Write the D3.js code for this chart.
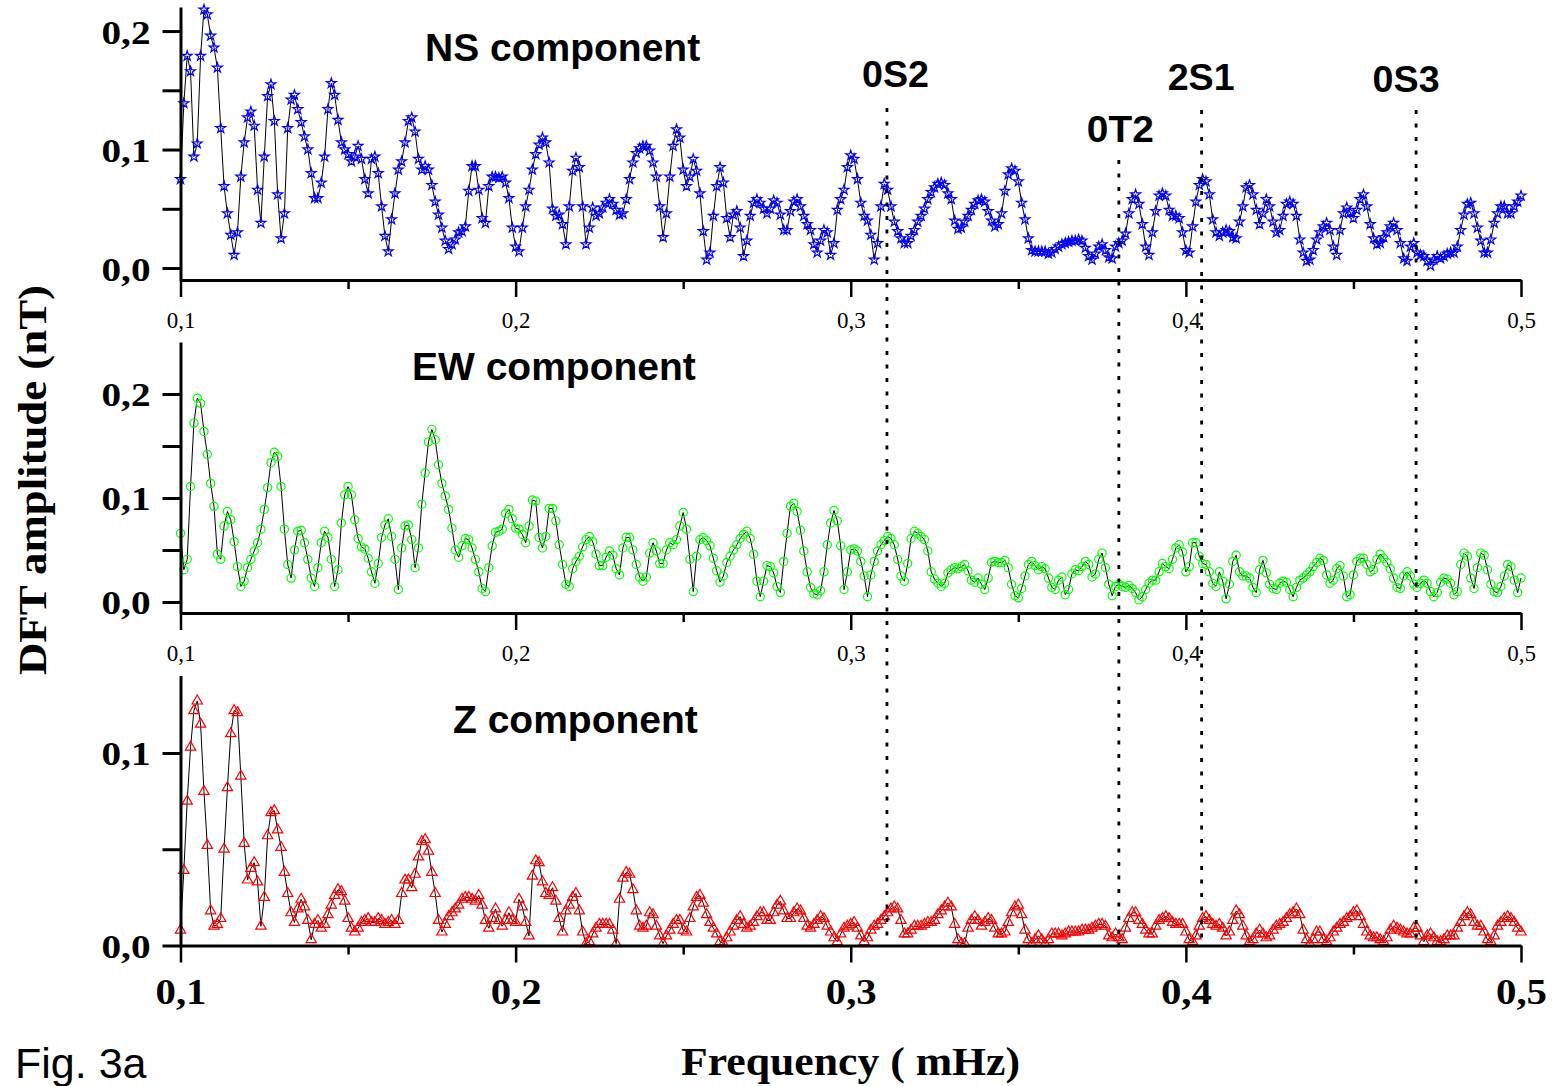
<!DOCTYPE html>
<html>
<head>
<meta charset="utf-8">
<title>DFT amplitude spectra – NS, EW and Z components</title>
<script src="https://cdn.jsdelivr.net/npm/d3@7"></script>
<style>
  html, body { margin: 0; padding: 0; background: #fff; }
  svg { display: block; }
</style>
</head>
<body>
<svg id="chart" width="1554" height="1086"></svg>
<script>
// ---------------------------------------------------------------------------
// Data: DFT amplitude (nT) sampled every 0.001 mHz from 0.100 to 0.500 mHz
// ---------------------------------------------------------------------------
const FREQ_START = 0.1;
const FREQ_STEP = 0.001;

const nsAmplitude = [
  0.075,0.139,0.179,0.166,0.094,0.105,0.179,0.218,0.214,0.196,
  0.186,0.169,0.118,0.069,0.046,0.028,0.011,0.030,0.077,0.106,
  0.127,0.132,0.120,0.066,0.038,0.094,0.145,0.155,0.124,0.062,
  0.025,0.046,0.118,0.142,0.146,0.134,0.123,0.111,0.100,0.080,
  0.059,0.059,0.072,0.094,0.134,0.156,0.146,0.125,0.106,0.100,
  0.096,0.090,0.094,0.103,0.092,0.075,0.063,0.092,0.094,0.080,
  0.052,0.027,0.014,0.041,0.063,0.083,0.090,0.106,0.124,0.127,
  0.115,0.092,0.083,0.086,0.083,0.070,0.056,0.045,0.034,0.023,
  0.016,0.020,0.024,0.030,0.031,0.035,0.065,0.086,0.086,0.066,
  0.042,0.038,0.069,0.077,0.077,0.076,0.077,0.072,0.059,0.034,
  0.018,0.014,0.034,0.052,0.066,0.083,0.096,0.104,0.110,0.106,
  0.089,0.050,0.044,0.045,0.037,0.020,0.052,0.082,0.093,0.085,
  0.052,0.020,0.034,0.051,0.044,0.046,0.051,0.055,0.058,0.054,
  0.049,0.045,0.046,0.058,0.075,0.089,0.097,0.101,0.103,0.103,
  0.099,0.089,0.077,0.052,0.026,0.046,0.077,0.103,0.117,0.110,
  0.083,0.069,0.077,0.092,0.082,0.063,0.031,0.007,0.013,0.044,
  0.069,0.085,0.072,0.042,0.026,0.045,0.048,0.034,0.010,0.023,
  0.044,0.055,0.058,0.055,0.050,0.046,0.050,0.057,0.055,0.045,
  0.032,0.032,0.048,0.056,0.058,0.052,0.044,0.037,0.032,0.020,
  0.013,0.023,0.032,0.030,0.011,0.021,0.049,0.058,0.066,0.085,
  0.095,0.092,0.075,0.055,0.044,0.040,0.028,0.007,0.021,0.052,
  0.071,0.066,0.052,0.039,0.031,0.025,0.021,0.021,0.027,0.032,
  0.039,0.044,0.050,0.058,0.064,0.068,0.071,0.072,0.070,0.063,
  0.058,0.040,0.033,0.034,0.039,0.044,0.049,0.054,0.057,0.058,
  0.056,0.048,0.040,0.035,0.037,0.046,0.065,0.079,0.084,0.082,
  0.073,0.055,0.041,0.025,0.015,0.014,0.014,0.014,0.014,0.012,
  0.013,0.016,0.018,0.020,0.021,0.022,0.023,0.023,0.024,0.023,
  0.017,0.010,0.007,0.012,0.018,0.020,0.015,0.009,0.008,0.018,
  0.021,0.023,0.029,0.046,0.058,0.062,0.054,0.037,0.018,0.011,
  0.030,0.048,0.061,0.063,0.061,0.049,0.044,0.044,0.042,0.030,
  0.015,0.013,0.035,0.056,0.070,0.075,0.073,0.062,0.041,0.030,
  0.027,0.030,0.032,0.031,0.026,0.025,0.039,0.052,0.068,0.070,
  0.062,0.049,0.037,0.046,0.058,0.052,0.039,0.030,0.032,0.044,
  0.054,0.056,0.054,0.044,0.024,0.013,0.006,0.007,0.015,0.024,
  0.030,0.035,0.038,0.032,0.018,0.011,0.032,0.046,0.051,0.047,
  0.042,0.049,0.058,0.062,0.052,0.037,0.025,0.020,0.021,0.026,
  0.030,0.035,0.038,0.032,0.021,0.008,0.006,0.018,0.021,0.013,
  0.011,0.010,0.006,0.002,0.007,0.010,0.008,0.010,0.012,0.013,
  0.013,0.018,0.032,0.045,0.054,0.055,0.046,0.034,0.023,0.013,
  0.013,0.024,0.038,0.046,0.052,0.052,0.046,0.046,0.052,0.056,
  0.061
];

const ewAmplitude = [
  0.066,0.031,0.041,0.111,0.172,0.196,0.191,0.164,0.142,0.114,
  0.092,0.046,0.041,0.073,0.087,0.079,0.058,0.034,0.015,0.020,
  0.033,0.041,0.049,0.057,0.070,0.089,0.110,0.134,0.144,0.140,
  0.111,0.070,0.036,0.023,0.050,0.068,0.069,0.057,0.041,0.023,
  0.015,0.033,0.057,0.068,0.062,0.041,0.015,0.031,0.076,0.103,
  0.111,0.103,0.079,0.061,0.053,0.051,0.042,0.029,0.018,0.037,
  0.062,0.074,0.080,0.063,0.041,0.012,0.052,0.073,0.074,0.060,
  0.033,0.052,0.094,0.124,0.154,0.166,0.156,0.132,0.114,0.102,
  0.089,0.071,0.050,0.043,0.054,0.061,0.060,0.052,0.041,0.029,
  0.013,0.010,0.033,0.054,0.067,0.068,0.070,0.085,0.089,0.080,
  0.071,0.070,0.065,0.057,0.073,0.098,0.097,0.062,0.052,0.063,
  0.090,0.090,0.078,0.055,0.036,0.017,0.015,0.032,0.039,0.044,
  0.053,0.060,0.063,0.058,0.046,0.035,0.035,0.043,0.049,0.045,
  0.032,0.026,0.052,0.062,0.062,0.050,0.036,0.024,0.020,0.024,
  0.047,0.057,0.049,0.037,0.037,0.050,0.057,0.055,0.060,0.073,
  0.086,0.070,0.041,0.010,0.044,0.060,0.062,0.059,0.054,0.042,
  0.030,0.019,0.025,0.038,0.044,0.050,0.055,0.061,0.065,0.068,
  0.061,0.046,0.020,0.005,0.020,0.035,0.034,0.028,0.015,0.009,
  0.039,0.066,0.092,0.095,0.087,0.069,0.049,0.029,0.014,0.008,
  0.007,0.011,0.029,0.055,0.076,0.088,0.078,0.054,0.012,0.029,
  0.050,0.051,0.049,0.039,0.025,0.005,0.026,0.039,0.049,0.055,
  0.059,0.063,0.061,0.055,0.041,0.025,0.020,0.037,0.061,0.068,
  0.066,0.063,0.060,0.049,0.029,0.022,0.018,0.015,0.018,0.028,
  0.031,0.033,0.032,0.034,0.036,0.030,0.021,0.019,0.023,0.017,
  0.012,0.023,0.038,0.039,0.038,0.038,0.040,0.033,0.017,0.006,
  0.004,0.013,0.025,0.036,0.039,0.035,0.031,0.034,0.032,0.023,
  0.014,0.012,0.021,0.024,0.007,0.012,0.027,0.031,0.030,0.034,
  0.039,0.036,0.024,0.027,0.041,0.047,0.033,0.017,0.006,0.015,
  0.017,0.015,0.014,0.016,0.013,0.009,0.002,0.005,0.012,0.018,
  0.021,0.021,0.029,0.037,0.034,0.032,0.041,0.052,0.055,0.048,
  0.029,0.034,0.057,0.057,0.044,0.037,0.036,0.029,0.018,0.015,
  0.029,0.020,0.003,0.017,0.039,0.045,0.029,0.025,0.025,0.023,
  0.014,0.009,0.031,0.040,0.028,0.017,0.013,0.012,0.018,0.020,
  0.019,0.012,0.005,0.014,0.021,0.023,0.026,0.029,0.034,0.038,
  0.042,0.040,0.026,0.018,0.021,0.032,0.035,0.025,0.005,0.007,
  0.026,0.039,0.042,0.042,0.036,0.029,0.031,0.041,0.046,0.042,
  0.038,0.032,0.023,0.014,0.013,0.025,0.029,0.025,0.017,0.014,
  0.018,0.021,0.018,0.010,0.005,0.009,0.019,0.023,0.022,0.018,
  0.007,0.010,0.036,0.047,0.044,0.023,0.013,0.033,0.047,0.045,
  0.031,0.017,0.010,0.009,0.015,0.025,0.036,0.034,0.021,0.009,
  0.023
];

const zAmplitude = [
  0.008,0.039,0.075,0.103,0.122,0.127,0.115,0.080,0.052,0.018,
  0.010,0.011,0.014,0.050,0.082,0.110,0.122,0.121,0.088,0.053,
  0.034,0.040,0.043,0.033,0.010,0.025,0.057,0.069,0.070,0.060,
  0.051,0.038,0.027,0.017,0.012,0.019,0.024,0.020,0.013,0.003,
  0.011,0.013,0.009,0.011,0.016,0.021,0.026,0.029,0.028,0.023,
  0.014,0.009,0.007,0.009,0.012,0.013,0.014,0.012,0.012,0.014,
  0.013,0.011,0.012,0.013,0.011,0.013,0.027,0.034,0.034,0.030,
  0.037,0.046,0.054,0.055,0.049,0.038,0.027,0.013,0.007,0.011,
  0.015,0.017,0.019,0.021,0.024,0.025,0.025,0.024,0.023,0.026,
  0.021,0.013,0.009,0.014,0.019,0.013,0.010,0.013,0.017,0.013,
  0.012,0.024,0.020,0.012,0.005,0.036,0.044,0.043,0.033,0.027,
  0.026,0.030,0.023,0.014,0.007,0.018,0.021,0.025,0.027,0.018,
  0.007,0.001,0.002,0.006,0.009,0.011,0.011,0.011,0.011,0.008,
  0.001,0.024,0.035,0.038,0.037,0.029,0.018,0.010,0.009,0.010,
  0.017,0.016,0.010,0.005,0.001,0.005,0.008,0.011,0.013,0.013,
  0.008,0.007,0.014,0.020,0.025,0.026,0.022,0.016,0.012,0.009,
  0.006,0.002,0.001,0.004,0.007,0.010,0.013,0.015,0.011,0.009,
  0.010,0.012,0.015,0.017,0.017,0.013,0.013,0.017,0.021,0.023,
  0.018,0.014,0.014,0.017,0.019,0.018,0.014,0.010,0.009,0.011,
  0.013,0.015,0.014,0.010,0.007,0.004,0.002,0.006,0.009,0.010,
  0.011,0.012,0.009,0.005,0.002,0.004,0.008,0.010,0.011,0.013,
  0.015,0.017,0.019,0.020,0.019,0.013,0.006,0.006,0.008,0.010,
  0.010,0.010,0.011,0.012,0.012,0.013,0.016,0.018,0.020,0.022,
  0.020,0.011,0.003,0.001,0.001,0.009,0.013,0.015,0.013,0.010,
  0.012,0.014,0.013,0.009,0.006,0.006,0.007,0.012,0.017,0.020,
  0.021,0.016,0.008,0.003,0.001,0.003,0.005,0.003,0.001,0.003,
  0.006,0.006,0.006,0.005,0.006,0.007,0.007,0.007,0.007,0.008,
  0.008,0.008,0.009,0.010,0.011,0.011,0.010,0.005,0.004,0.006,
  0.004,0.003,0.009,0.014,0.017,0.017,0.013,0.011,0.008,0.006,
  0.006,0.010,0.013,0.014,0.015,0.014,0.012,0.011,0.011,0.011,
  0.007,0.003,0.002,0.005,0.010,0.014,0.015,0.013,0.011,0.010,
  0.011,0.009,0.005,0.007,0.013,0.018,0.016,0.010,0.005,0.002,
  0.003,0.006,0.008,0.006,0.004,0.005,0.008,0.010,0.011,0.012,
  0.014,0.016,0.017,0.019,0.016,0.008,0.003,0.001,0.003,0.007,
  0.007,0.003,0.002,0.004,0.007,0.009,0.011,0.012,0.014,0.015,
  0.017,0.018,0.015,0.011,0.007,0.005,0.004,0.004,0.003,0.002,
  0.004,0.008,0.010,0.009,0.008,0.007,0.006,0.006,0.009,0.009,
  0.005,0.002,0.005,0.006,0.004,0.002,0.002,0.003,0.005,0.005,
  0.005,0.009,0.012,0.015,0.017,0.016,0.012,0.010,0.010,0.007,
  0.003,0.002,0.005,0.010,0.012,0.014,0.015,0.014,0.012,0.009,
  0.007
];

// Frequency bins (mHz) for the samples above
const frequency = nsAmplitude.map((_, i) => +(FREQ_START + i * FREQ_STEP).toFixed(3));

// Axis ticks
const xTickValues = [0.1, 0.15, 0.2, 0.25, 0.3, 0.35, 0.4, 0.45, 0.5];
const xTickLabels = ["0,1", "0,2", "0,3", "0,4", "0,5"];
const nsYTicks = [0, 0.05, 0.1, 0.15, 0.2];
const ewYTicks = [0, 0.05, 0.1, 0.15, 0.2];
const zYTicks = [0, 0.05, 0.1];
const yTickLabels = ["0,0", "0,1", "0,2"];

// Normal modes of the Earth marked on the spectra (mHz)
const modeNames = ["0S2", "0T2", "2S1", "0S3"];
const modeFreqs = [0.3108, 0.3800, 0.4047, 0.4687];

const panelTitles = ["NS component", "EW component", "Z component"];
const yAxisTitle = "DFT amplitude (nT)";
const xAxisTitle = "Frequency ( mHz)";
const figureLabel = "Fig. 3a";

// ---------------------------------------------------------------------------
// Layout
// ---------------------------------------------------------------------------
const SERIF = '"Liberation Serif", "Times New Roman", Times, serif';
const SANS = '"Liberation Sans", Arial, Helvetica, sans-serif';

const svg = d3.select("#chart");
const x = d3.scaleLinear().domain([0.1, 0.5]).range([180.5, 1521]);

const isMajor = v => Math.abs(v * 10 - Math.round(v * 10)) < 1e-6;

const panels = [
  { title: panelTitles[0], values: nsAmplitude, yTicks: nsYTicks,
    domain: [-0.0101, 0.2203], range: [280, 7],
    color: "#0000ff", marker: "star", titlePos: [425, 61], bigXLabels: false },
  { title: panelTitles[1], values: ewAmplitude, yTicks: ewYTicks,
    domain: [-0.0106, 0.25], range: [613, 342],
    color: "#00ff00", marker: "circle", titlePos: [412, 380], bigXLabels: false },
  { title: panelTitles[2], values: zAmplitude, yTicks: zYTicks,
    domain: [0, 0.1403], range: [945.5, 675.4],
    color: "#ff0000", marker: "triangle", titlePos: [453, 733], bigXLabels: true }
];

const starPath = d3.symbol().type(d3.symbolStar).size(30)();
const trianglePath = d3.symbol().type(d3.symbolTriangle).size(46)();

panels.forEach(p => {
  const y = d3.scaleLinear().domain(p.domain).range(p.range);
  const g = svg.append("g");

  // connecting line
  g.append("path")
    .datum(p.values)
    .attr("d", d3.line().x((d, i) => x(frequency[i])).y(d => y(d)))
    .attr("fill", "none")
    .attr("stroke", "#000")
    .attr("stroke-width", 1);

  // open markers
  const pts = g.append("g")
    .attr("fill", "none")
    .attr("stroke", p.color)
    .attr("stroke-width", 1.2);
  if (p.marker === "circle") {
    pts.selectAll("circle").data(p.values).join("circle")
      .attr("cx", (d, i) => x(frequency[i]))
      .attr("cy", d => y(d))
      .attr("r", 4.1);
  } else {
    const shape = p.marker === "star" ? starPath : trianglePath;
    pts.selectAll("path").data(p.values).join("path")
      .attr("d", shape)
      .attr("transform", (d, i) => `translate(${x(frequency[i])},${y(d)})`);
  }

  // y axis
  const yAxis = d3.axisLeft(y)
    .tickValues(p.yTicks)
    .tickSize(18)
    .tickSizeOuter(0)
    .tickFormat(v => isMajor(v) ? yTickLabels[Math.round(v * 10)] : "");
  const ya = g.append("g")
    .attr("transform", `translate(${x.range()[0]},0)`)
    .call(yAxis);
  ya.select(".domain").attr("stroke", "#000").attr("stroke-width", 3);
  ya.selectAll(".tick line").attr("stroke", "#000").attr("stroke-width", 3);
  ya.selectAll(".tick text")
    .attr("x", -30).attr("dy", null).attr("y", 12)
    .attr("font-family", SERIF).attr("font-weight", "bold").attr("font-size", 34)
    .attr("fill", "#000")
    .filter(v => isMajor(v))
    .attr("textLength", 49).attr("lengthAdjust", "spacingAndGlyphs");

  // x axis
  const xAxis = d3.axisBottom(x)
    .tickValues(xTickValues)
    .tickSize(17)
    .tickSizeOuter(0)
    .tickFormat(v => isMajor(v) ? xTickLabels[Math.round(v * 10) - 1] : "");
  const xa = g.append("g")
    .attr("transform", `translate(0,${p.range[0]})`)
    .call(xAxis);
  xa.select(".domain").attr("stroke", "#000").attr("stroke-width", 3);
  xa.selectAll(".tick line").attr("stroke", "#000").attr("stroke-width", 2.5);
  xa.selectAll(".tick").filter(v => !isMajor(v)).select("line").attr("y2", 9);
  const xt = xa.selectAll(".tick text").attr("dy", null).attr("fill", "#000")
    .attr("font-family", SERIF);
  if (p.bigXLabels) {
    xt.attr("y", 58).attr("font-weight", "bold").attr("font-size", 35)
      .filter(v => isMajor(v))
      .attr("textLength", 51).attr("lengthAdjust", "spacingAndGlyphs");
  } else {
    xt.attr("y", 48).attr("font-weight", "normal").attr("font-size", 23);
  }

  // panel title
  svg.append("text")
    .attr("x", p.titlePos[0]).attr("y", p.titlePos[1])
    .attr("font-family", SANS).attr("font-weight", "bold").attr("font-size", 39)
    .attr("fill", "#000")
    .text(p.title);
});

// Dotted markers for the normal-mode frequencies, running through all panels
const modeLayout = [
  { dx: 8.5, baseline: 87, top: 108 },
  { dx: 1.5, baseline: 142, top: 160 },
  { dx: -0.5, baseline: 90, top: 110 },
  { dx: -10, baseline: 92, top: 110 }
];
const modeG = svg.append("g");
modeNames.forEach((name, i) => {
  const mx = x(modeFreqs[i]);
  const L = modeLayout[i];
  modeG.append("line")
    .attr("x1", mx).attr("x2", mx)
    .attr("y1", L.top).attr("y2", 945.5)
    .attr("stroke", "#000").attr("stroke-width", 2.8)
    .attr("stroke-dasharray", "4 9.5");
  modeG.append("text")
    .attr("x", mx + L.dx).attr("y", L.baseline)
    .attr("text-anchor", "middle")
    .attr("font-family", SANS).attr("font-weight", "bold").attr("font-size", 37)
    .attr("textLength", 67).attr("lengthAdjust", "spacingAndGlyphs")
    .attr("fill", "#000")
    .text(name);
});

// Axis titles and figure label
svg.append("text")
  .attr("transform", "translate(46,480) rotate(-90)")
  .attr("text-anchor", "middle")
  .attr("font-family", SERIF).attr("font-weight", "bold").attr("font-size", 40)
  .attr("textLength", 390).attr("lengthAdjust", "spacingAndGlyphs")
  .attr("fill", "#000")
  .text(yAxisTitle);

svg.append("text")
  .attr("x", 681).attr("y", 1075)
  .attr("font-family", SERIF).attr("font-weight", "bold").attr("font-size", 40)
  .attr("textLength", 339).attr("lengthAdjust", "spacingAndGlyphs")
  .attr("fill", "#000")
  .text(xAxisTitle);

svg.append("text")
  .attr("x", 15).attr("y", 1078)
  .attr("font-family", SANS).attr("font-size", 43)
  .attr("fill", "#000")
  .text(figureLabel);
</script>
</body>
</html>
